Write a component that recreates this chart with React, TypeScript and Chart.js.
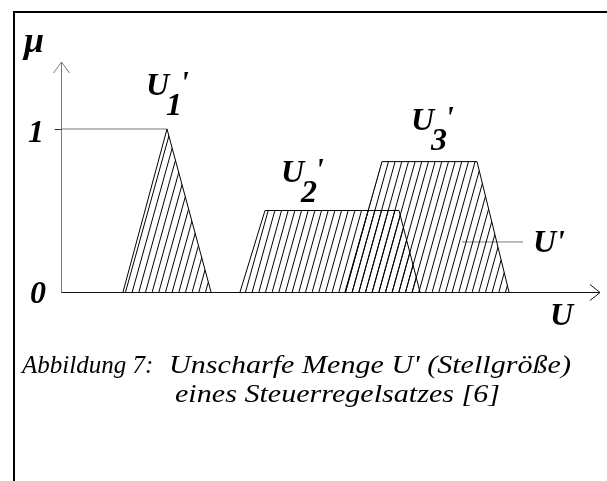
import React, { useEffect, useRef } from "react";
import { Chart, registerables } from "chart.js";

Chart.register(...registerables);

// Membership functions (U in arbitrary units, μ from 0 to 1)
const u1X = [6.1, 10.5, 14.9];
const u1Mu = [0, 1, 0];
const u2X = [17.8, 20.3, 33.7, 35.8];
const u2Mu = [0, 0.5, 0.5, 0];
const u3X = [28.3, 32.0, 41.5, 44.7];
const u3Mu = [0, 0.8, 0.8, 0];
const oneLineX = [0, 10.5];
const oneLineMu = [1, 1];
const leaderX = [40.0, 46.1];
const leaderMu = [0.307, 0.307];
const yTicks = ["0", "1"];
const setLabels = ["1", "2", "3"];
const captionLabel = "Abbildung 7:";
const captionLine1 = "Unscharfe Menge U' (Stellgröße)";
const captionLine2 = "eines Steuerregelsatzes [6]";
const xMax = 53.8;
const yMax = 1.411;

const pts = (xs: number[], ys: number[]) => xs.map((x, i) => ({ x, y: ys[i] }));

function makeHatch(): CanvasPattern | string {
  const c = document.createElement("canvas");
  c.width = 20;
  c.height = 24;
  const g = c.getContext("2d");
  if (!g) return "rgba(0,0,0,0.2)";
  g.strokeStyle = "#000";
  g.lineWidth = 1;
  const sp = 20 / 3;
  for (let k = -4; k <= 6; k++) {
    const x0 = k * sp;
    g.beginPath();
    g.moveTo(x0, 24);
    g.lineTo(x0 + sp, 0);
    g.stroke();
  }
  return g.createPattern(c, "repeat") || "rgba(0,0,0,0.2)";
}

const SERIF = '"Liberation Serif", "Times New Roman", serif';

function drawWide(ctx: CanvasRenderingContext2D, text: string, x: number, y: number, width: number) {
  const nat = ctx.measureText(text).width || 1;
  ctx.save();
  ctx.translate(x, y);
  ctx.scale(width / nat, 1);
  ctx.fillText(text, 0, 0);
  ctx.restore();
}

const decorPlugin = {
  id: "decor",
  afterDatasetsDraw(chart: any) {
    const ctx = chart.ctx as CanvasRenderingContext2D;
    const xs = chart.scales.x;
    const ys = chart.scales.y;
    const x0 = Math.round(xs.getPixelForValue(0)) - 0.5;
    const y0 = Math.round(ys.getPixelForValue(0)) + 0.5;
    const yTop = ys.getPixelForValue(yMax);
    const xEnd = xs.getPixelForValue(xMax);
    const y1 = Math.round(ys.getPixelForValue(1)) + 0.5;
    ctx.save();
    // frame
    ctx.fillStyle = "#000";
    ctx.fillRect(13, 11, 607, 2);
    ctx.fillRect(13, 11, 2, 481);
    // y axis
    ctx.lineWidth = 1;
    ctx.strokeStyle = "#7a7a7a";
    ctx.beginPath();
    ctx.moveTo(x0, y0);
    ctx.lineTo(x0, yTop);
    ctx.moveTo(x0 - 8, yTop + 11);
    ctx.lineTo(x0, yTop);
    ctx.lineTo(x0 + 8, yTop + 11);
    ctx.stroke();
    // tick at 1
    ctx.strokeStyle = "#333";
    ctx.beginPath();
    ctx.moveTo(x0 - 7, y1);
    ctx.lineTo(x0, y1);
    ctx.stroke();
    // x axis
    ctx.strokeStyle = "#111";
    ctx.beginPath();
    ctx.moveTo(x0, y0);
    ctx.lineTo(xEnd, y0);
    ctx.moveTo(xEnd - 10, y0 - 8);
    ctx.lineTo(xEnd, y0);
    ctx.lineTo(xEnd - 10, y0 + 8);
    ctx.stroke();

    // labels
    ctx.fillStyle = "#000";
    ctx.textBaseline = "alphabetic";
    ctx.textAlign = "left";
    ctx.font = `bold italic 36px ${SERIF}`;
    ctx.fillText("μ", 24, 52);
    ctx.font = `bold italic 32px ${SERIF}`;
    ctx.fillText(yTicks[1], 28, 142);
    ctx.fillText(yTicks[0], 30, 303);
    ctx.fillText("U", 550, 325);
    ctx.fillText("U'", 533, 252);

    const setLabel = (x: number, base: number, sub: string) => {
      ctx.font = `bold italic 32px ${SERIF}`;
      ctx.fillText("U", x, base);
      const w = ctx.measureText("U").width;
      ctx.fillText(sub, x + w - 3, base + 20);
      ctx.fillText("'", x + w + 11, base - 2);
    };
    setLabel(146, 95, setLabels[0]);
    setLabel(281, 182, setLabels[1]);
    setLabel(411, 130, setLabels[2]);

    // caption
    ctx.font = `italic 25px ${SERIF}`;
    ctx.fillText(captionLabel, 22, 373);
    drawWide(ctx, captionLine1, 169, 373, 402);
    drawWide(ctx, captionLine2, 175, 402, 325);
    ctx.restore();
  },
};

export default function App() {
  const ref = useRef<HTMLCanvasElement | null>(null);
  useEffect(() => {
    if (!ref.current) return;
    const hatch = makeHatch();
    const shape = (xs: number[], ys: number[]) => ({
      data: pts(xs, ys),
      borderColor: "#000",
      borderWidth: 1,
      backgroundColor: hatch,
      fill: "origin",
      pointRadius: 0,
      tension: 0,
    });
    const guide = (xs: number[], ys: number[]) => ({
      data: pts(xs, ys),
      borderColor: "#7a7a7a",
      borderWidth: 1,
      fill: false,
      pointRadius: 0,
      tension: 0,
    });
    const chart = new Chart(ref.current, {
      type: "line",
      data: {
        datasets: [
          shape(u1X, u1Mu),
          shape(u2X, u2Mu),
          shape(u3X, u3Mu),
          guide(oneLineX, oneLineMu),
          guide(leaderX, leaderMu),
        ] as any,
      },
      options: {
        animation: false,
        responsive: false,
        maintainAspectRatio: false,
        layout: { padding: { left: 62, top: 62, right: 7, bottom: 189 } },
        plugins: { legend: { display: false }, tooltip: { enabled: false } },
        scales: {
          x: { type: "linear", min: 0, max: xMax, display: false },
          y: { type: "linear", min: 0, max: yMax, display: false },
        },
      },
      plugins: [decorPlugin],
    });
    return () => chart.destroy();
  }, []);
  return (
    <div style={{ position: "absolute", left: 0, top: 0, width: 607, height: 481, background: "#fff" }}>
      <canvas ref={ref} width={607} height={481} style={{ display: "block" }} />
    </div>
  );
}
